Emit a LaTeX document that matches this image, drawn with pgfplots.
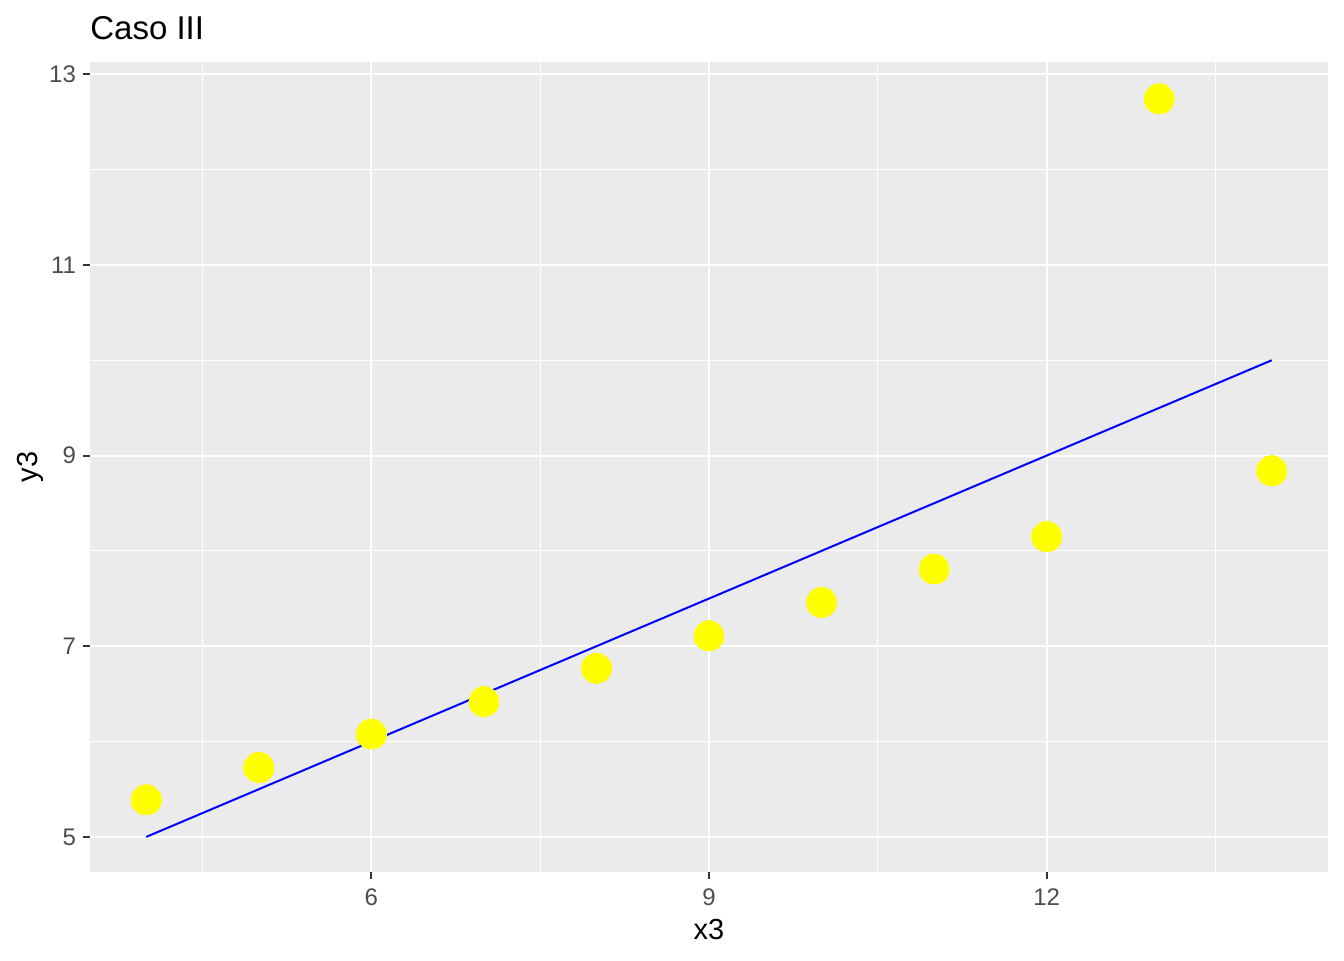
\documentclass[border=0pt]{standalone}
\usepackage{fontspec}
\setmainfont{Liberation Sans}
\usepackage{pgfplots}
\pgfplotsset{compat=1.18}
\definecolor{panel}{HTML}{EBEBEB}
\definecolor{tickc}{HTML}{4D4D4D}
\definecolor{tickm}{HTML}{333333}
\definecolor{ptyellow}{HTML}{FFFF00}
\begin{document}
\begin{tikzpicture}
\begin{axis}[at={(0,0)}, anchor=south west, scale only axis, width=619pt, height=405pt,
  xmin=3.5, xmax=14.5, ymin=4.633, ymax=13.126,
  axis background/.style={fill=panel}, axis line style={draw=none},
  xtick={6,9,12}, ytick={5,7,9,11,13},
  minor xtick={4.5,7.5,10.5,13.5}, minor ytick={6,8,10,12},
  xtick pos=bottom, ytick pos=left,
  grid=both, major grid style={white, line width=1pt}, minor grid style={white, line width=0.5pt},
  tick align=outside, major tick length=3.5pt, minor tick length=0pt,
  major tick style={tickm, line width=1pt}, minor tick style={draw=none},
  ticklabel style={font=\fontsize{12}{12}\selectfont, text=tickc},
  xticklabel style={yshift=-1.5pt},
  /pgf/number format/assume math mode=true,
  xlabel={x3}, ylabel={y3},
  label style={font=\fontsize{14.5}{15}\selectfont},
  xlabel style={at={(axis description cs:0.5,0)}, anchor=center, yshift=-29pt},
  ylabel style={at={(axis description cs:0,0.5)}, anchor=center, yshift=30pt},
  title={Caso III},
  title style={at={(axis description cs:0,1)}, anchor=base west, inner sep=0pt, yshift=5pt, font=\fontsize{16.5}{17}\selectfont},
  clip=false,
]
\addplot[only marks, mark=*, mark size=7.5pt, mark options={fill=ptyellow, draw=ptyellow, line width=0pt}] coordinates {
(10,7.46) (8,6.77) (13,12.74) (9,7.11) (11,7.81) (14,8.84) (6,6.08) (4,5.39) (12,8.15) (7,6.42) (5,5.73)
};
\addplot[blue, line width=1pt, mark=none] coordinates {
(4,5.0014) (5,5.5011) (6,6.0009) (7,6.5006) (8,7.0003) (9,7.5000) (10,7.9998) (11,8.4995) (12,8.9992) (13,9.4990) (14,9.9987)
};
\end{axis}
\pgfresetboundingbox
\useasboundingbox (-45pt,-44pt) rectangle (627pt,436pt);
\end{tikzpicture}
\end{document}
